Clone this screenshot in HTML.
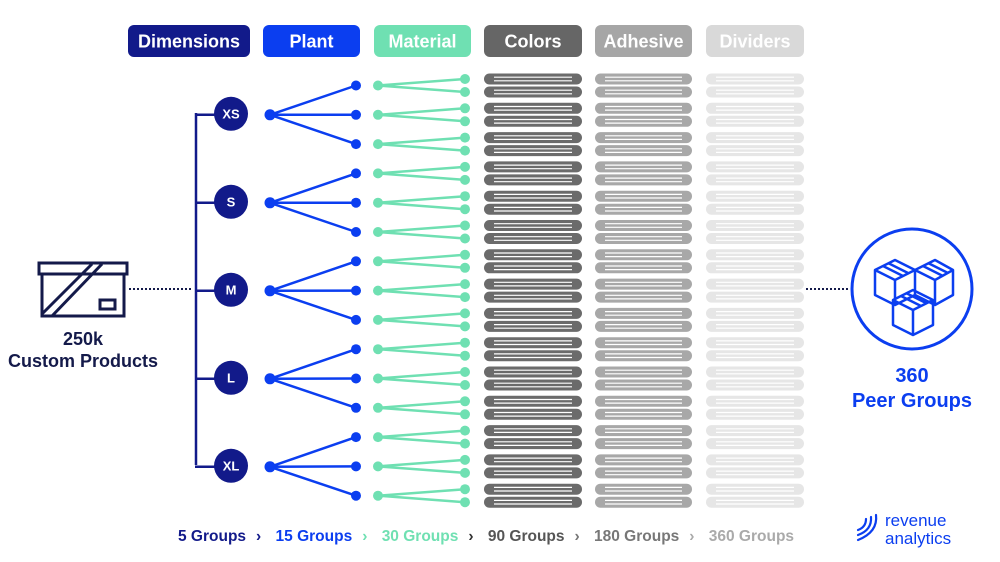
<!DOCTYPE html>
<html><head><meta charset="utf-8"><style>
html,body{margin:0;padding:0;background:#fff;width:1000px;height:562px;overflow:hidden}
svg{display:block}
text{font-family:"Liberation Sans",sans-serif;font-weight:bold}
</style></head><body>
<svg id="s" width="1000" height="562" viewBox="0 0 1000 562" xmlns="http://www.w3.org/2000/svg">
<g id="g"></g>
<rect x="128" y="25" width="122" height="32" rx="6" fill="#121a8a"/>
<text x="189" y="47.5" font-size="18" fill="#fff" text-anchor="middle">Dimensions</text>
<rect x="263" y="25" width="97" height="32" rx="6" fill="#0b3ef0"/>
<text x="311.5" y="47.5" font-size="18" fill="#fff" text-anchor="middle">Plant</text>
<rect x="374" y="25" width="97" height="32" rx="6" fill="#6fe0b2"/>
<text x="422.5" y="47.5" font-size="18" fill="#fff" text-anchor="middle">Material</text>
<rect x="484" y="25" width="98" height="32" rx="6" fill="#666"/>
<text x="533" y="47.5" font-size="18" fill="#fff" text-anchor="middle">Colors</text>
<rect x="595" y="25" width="97" height="32" rx="6" fill="#a6a6a6"/>
<text x="643.5" y="47.5" font-size="18" fill="#fff" text-anchor="middle">Adhesive</text>
<rect x="706" y="25" width="98" height="32" rx="6" fill="#d9d9d9"/>
<text x="755" y="47.5" font-size="18" fill="#fff" text-anchor="middle">Dividers</text>
<g fill="none" stroke="#141a4a" stroke-width="3">
<rect x="39" y="263" width="88" height="11"/>
<rect x="42" y="274" width="82" height="42"/>
<line x1="42" y1="314" x2="92" y2="264"/>
<line x1="52" y1="316" x2="102" y2="264"/>
<rect x="100" y="300" width="15" height="9"/>
</g>
<line x1="129" y1="289" x2="193" y2="289" stroke="#141a4a" stroke-width="2" stroke-dasharray="2,2"/>
<text x="83" y="345" font-size="18" fill="#141a4a" text-anchor="middle">250k</text>
<text x="83" y="367" font-size="18" fill="#141a4a" text-anchor="middle">Custom Products</text>
<line x1="806" y1="289" x2="850" y2="289" stroke="#141a4a" stroke-width="2" stroke-dasharray="2,2"/>
<circle cx="912" cy="289" r="60" fill="none" stroke="#0b3ef0" stroke-width="3"/>
<g fill="none" stroke="#0b3ef0" stroke-width="2.5" stroke-linejoin="round">
<path d="M875 270 L895 260 L915 270 L915 295 L895 305 L875 295 Z M875 270 L895 280 L915 270 M895 280 L895 305 M883 266 L903 276 M888 263 L908 273"/>
<path d="M915 270 L935 260 L953 270 L953 295 L935 305 L915 295 M915 270 L935 280 L953 270 M935 280 L935 305 M923 266 L943 276 M928 263 L948 273"/>
<path d="M893 300 L913 290 L933 300 L933 325 L913 335 L893 325 Z M893 300 L913 310 L933 300 M913 310 L913 335 M901 296 L921 306 M906 293 L926 303"/>
</g>
<text x="912" y="382" font-size="20" fill="#0b3ef0" text-anchor="middle">360</text>
<text x="912" y="407" font-size="20" fill="#0b3ef0" text-anchor="middle">Peer Groups</text>
<text y="541" font-size="15.5">
<tspan x="178" fill="#121a8a">5 Groups</tspan><tspan dx="10" fill="#121a8a">›</tspan>
<tspan dx="10" fill="#0b3ef0">15 Groups</tspan><tspan dx="10" fill="#6fe0b2">›</tspan>
<tspan dx="10" fill="#6fe0b2">30 Groups</tspan><tspan dx="10" fill="#333">›</tspan>
<tspan dx="10" fill="#555">90 Groups</tspan><tspan dx="10" fill="#777">›</tspan>
<tspan dx="10" fill="#777">180 Groups</tspan><tspan dx="10" fill="#aaa">›</tspan>
<tspan dx="10" fill="#aaa">360 Groups</tspan></text>
<g fill="none" stroke="#0b3ef0" stroke-width="2.2" stroke-linecap="round">
<path d="M876 515 Q878 532 858 540"/><path d="M871 517 Q872 530 858 535"/><path d="M866 519 Q866 527 858 530"/>
</g>
<text x="885" y="526" font-size="17" fill="#0b3ef0" style="font-weight:normal">revenue</text>
<text x="885" y="544" font-size="17" fill="#0b3ef0" style="font-weight:normal">analytics</text>
</svg>
<script>
var g=document.getElementById('g'),NS='http://www.w3.org/2000/svg';
function el(n,a){var e=document.createElementNS(NS,n);for(var k in a)e.setAttribute(k,a[k]);g.appendChild(e);return e;}
var navy='#121a8a',blue='#0b3ef0',green='#6fe0b2';
el('line',{x1:196,y1:113,x2:196,y2:465,stroke:navy,'stroke-width':2.5});
var labels=['XS','S','M','L','XL'];
for(var i=0;i<5;i++){
 var cy=114.8+88*i;
 el('line',{x1:195,y1:cy,x2:220,y2:cy,stroke:navy,'stroke-width':2.5});
 for(var j=0;j<3;j++){
  var k=3*i+j, py=85.5+29.3*k;
  el('line',{x1:270,y1:cy,x2:356,y2:py,stroke:blue,'stroke-width':2.5});
  el('circle',{cx:356,cy:py,r:5,fill:blue});
  for(var m=0;m<2;m++){
   var ey=79+29.3*k+13*m;
   el('line',{x1:378,y1:py,x2:465,y2:ey,stroke:green,'stroke-width':2.5});
   el('circle',{cx:465,cy:ey,r:5,fill:green});
   var cols=[[484,582,'#6b6b6b'],[595,692,'#a8a8a8'],[706,804,'#e6e6e6']];
   cols.forEach(function(c){
    el('rect',{x:c[0],y:ey-5.5,width:c[1]-c[0],height:11,rx:5.5,fill:c[2]});
    el('line',{x1:c[0]+10,y1:ey-1.8,x2:c[1]-10,y2:ey-1.8,stroke:'#fff','stroke-width':1.2});
    el('line',{x1:c[0]+10,y1:ey+1.8,x2:c[1]-10,y2:ey+1.8,stroke:'#fff','stroke-width':1.2});
   });
  }
  el('circle',{cx:378,cy:py,r:5,fill:green});
 }
 el('circle',{cx:270,cy:cy,r:5.5,fill:blue});
 el('circle',{cx:231,cy:cy-1,r:17,fill:navy});
 var t=el('text',{x:231,y:cy+3.5,'font-size':13,fill:'#fff','text-anchor':'middle'});t.textContent=labels[i];
}
</script>
</body></html>
